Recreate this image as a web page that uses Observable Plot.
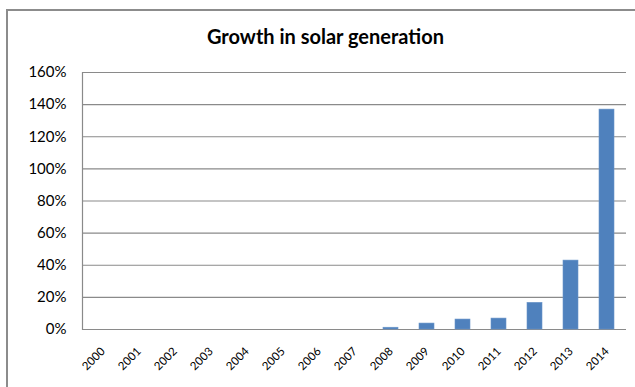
<!DOCTYPE html>
<html>
<head>
<meta charset="utf-8">
<script src="https://cdn.jsdelivr.net/npm/d3@7"></script>
<script src="https://cdn.jsdelivr.net/npm/@observablehq/plot@0.6"></script>
<style>
  html, body { margin: 0; padding: 0; background: #fff; }
  #wrap { position: relative; width: 635px; height: 387px; overflow: hidden; }
  #frame { position: absolute; left: 6px; top: 9px; width: 700px; height: 500px; border: 2px solid #8c8c8c; box-sizing: border-box; }
  #title { position: absolute; left: 0; width: 651px; top: 25px; text-align: center;
           font-family: Lato, sans-serif; font-weight: bold; font-size: 20px; line-height: 22px; color: #000; }
  #chart { position: absolute; left: 0; top: 0; }
</style>
</head>
<body>
<div id="wrap">
  <div id="frame"></div>
  <div id="chart"></div>
  <div id="title">Growth in solar generation</div>
</div>
<script>
const years = ["2000","2001","2002","2003","2004","2005","2006","2007","2008","2009","2010","2011","2012","2013","2014"];
const growth = [0, 0, 0, 0, 0, 0, 0, 0, 0.011, 0.037, 0.062, 0.068, 0.166, 0.429, 1.369];
const yTicks = [0, 0.2, 0.4, 0.6, 0.8, 1.0, 1.2, 1.4, 1.6];

const data = years.map((y, i) => ({year: y, value: growth[i]}));

const chart = Plot.plot({
  width: 635,
  height: 387,
  marginLeft: 82,
  marginRight: 9,
  marginTop: 72,
  marginBottom: 58,
  style: {fontFamily: "Lato, sans-serif", background: "transparent", color: "#000"},
  x: {domain: years, paddingInner: 0.59, paddingOuter: 0.295, label: null},
  y: {domain: [0, 1.6], label: null},
  marks: [
    Plot.gridY(yTicks, {stroke: "#8a8a8a", strokeOpacity: 1, strokeWidth: 1.2}),
    Plot.barY(data, {x: "year", y: "value", fill: "#4f81bd", stroke: "#6a95c9", strokeWidth: 0.6}),
    Plot.axisY(yTicks, {tickFormat: d => `${Math.round(d * 100)}%`, tickSize: 0, tickPadding: 16, fontSize: 15, label: null}),
    Plot.axisX({tickSize: 0, tickPadding: 20, tickRotate: -45, fontSize: 11.5, label: null}),
    Plot.frame({anchor: "left", stroke: "#8a8a8a", strokeWidth: 1.2})
  ]
});
document.getElementById("chart").appendChild(chart);
</script>
</body>
</html>
